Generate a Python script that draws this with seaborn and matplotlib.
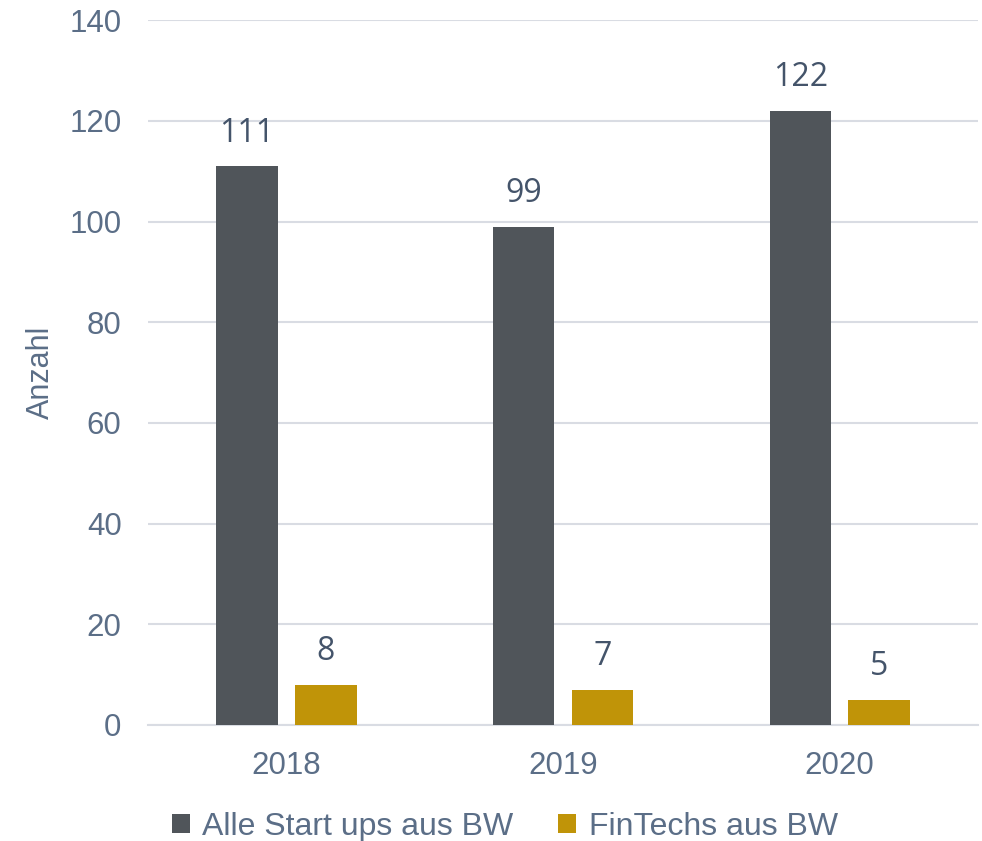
import matplotlib
matplotlib.use("Agg")
import matplotlib.pyplot as plt
import seaborn as sns
import pandas as pd

# Daten
jahre = ["2018", "2019", "2020"]
alle_startups = [111, 99, 122]
fintechs = [8, 7, 5]
serien = ["Alle Start ups aus BW", "FinTechs aus BW"]
farben = ["#50555A", "#C09408"]

sns.set_theme(style="white")
plt.rcParams["font.family"] = ["Liberation Sans", "DejaVu Sans"]

df = pd.DataFrame({
    "Jahr": jahre * 2,
    "Anzahl": alle_startups + fintechs,
    "Serie": [serien[0]] * 3 + [serien[1]] * 3,
})

fig = plt.figure(figsize=(9.82, 8.41), dpi=100)
ax = fig.add_axes([0.1507, 0.138, 0.8453, 0.838])

sns.barplot(data=df, x="Jahr", y="Anzahl", hue="Serie", hue_order=serien,
            palette=farben, width=0.57, gap=0.22, saturation=1, ax=ax,
            legend=True, zorder=3, linewidth=0)

textfarbe = "#5B6E87"
ax.set_ylim(0, 140)
ax.set_xlim(-0.5, 2.5)
ax.set_yticks(range(0, 141, 20))
ax.yaxis.grid(True, color="#D9DCE3", linewidth=1.5, zorder=0)
ax.set_axisbelow(True)
for s in ["top", "right", "left"]:
    ax.spines[s].set_visible(False)
ax.spines["bottom"].set_color("#D9DCE3")
ax.spines["bottom"].set_linewidth(1.5)
ax.tick_params(axis="both", length=0, labelsize=22.5, labelcolor=textfarbe)
ax.tick_params(axis="y", pad=19)
ax.tick_params(axis="x", pad=19)
ax.set_xlabel("")
ax.set_ylabel("Anzahl", fontsize=22, color=textfarbe, labelpad=10)

# Datenbeschriftungen
for cont in ax.containers:
    ax.bar_label(cont, padding=12, fontsize=23, color="#44546A", family="Open Sans")

ax.legend(loc="upper center", bbox_to_anchor=(0.43, -0.114), ncol=2, frameon=False,
          fontsize=23, labelcolor=textfarbe, handlelength=0.55, handleheight=0.55,
          handletextpad=0.4, columnspacing=1.4, borderaxespad=0, borderpad=0.2)

fig.savefig("out.png", dpi=100)
